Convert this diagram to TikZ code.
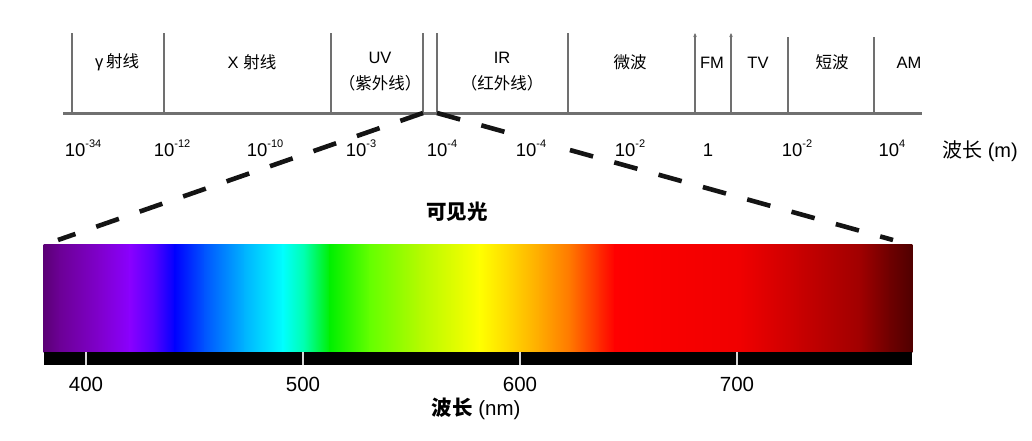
\documentclass[tikz,border=0pt]{standalone}
\usepackage{fontspec}
\setmainfont{Liberation Sans}
\newfontfamily\cjk{Noto Sans CJK SC}
\usetikzlibrary{arrows.meta}
\definecolor{linegray}{RGB}{112,112,112}
\definecolor{s0}{RGB}{92,0,118}
\definecolor{s1}{RGB}{108,0,150}
\definecolor{s2}{RGB}{128,0,205}
\definecolor{s3}{RGB}{138,0,255}
\definecolor{s4}{RGB}{80,0,255}
\definecolor{s5}{RGB}{0,0,255}
\definecolor{s6}{RGB}{0,85,255}
\definecolor{s7}{RGB}{0,180,255}
\definecolor{s8}{RGB}{0,255,255}
\definecolor{s9}{RGB}{0,255,170}
\definecolor{s10}{RGB}{0,240,0}
\definecolor{s11}{RGB}{100,255,0}
\definecolor{s12}{RGB}{180,250,0}
\definecolor{s13}{RGB}{255,255,0}
\definecolor{s14}{RGB}{255,215,0}
\definecolor{s15}{RGB}{255,170,0}
\definecolor{s16}{RGB}{255,120,0}
\definecolor{s17}{RGB}{255,40,0}
\definecolor{s18}{RGB}{255,0,0}
\definecolor{s19}{RGB}{240,0,0}
\definecolor{s20}{RGB}{200,0,0}
\definecolor{s21}{RGB}{160,0,0}
\definecolor{s22}{RGB}{110,0,0}
\definecolor{s23}{RGB}{80,0,0}
\newcommand\tenp[1]{10\raisebox{0.45em}{\fontsize{11}{11}\selectfont #1}}
\begin{document}
\begin{tikzpicture}[x=1pt,y=-1pt,
  bandline/.style={draw=linegray, line width=2pt},
  axisline/.style={draw=linegray, line width=3pt},
  bandlbl/.style={font=\fontsize{16.5}{18}\selectfont, inner sep=0pt, anchor=center},
  numlbl/.style={font=\fontsize{18.5}{20}\selectfont, inner sep=1.5pt, fill=white, anchor=base},
  zoomline/.style={draw=black!92, line width=4.6pt, dash pattern=on 24pt off 22pt},
  ticklbl/.style={font=\fontsize{20.5}{22}\selectfont, inner sep=0pt, anchor=base},
  tickmark/.style={draw=white!85!black, line width=2.5pt},
]
\useasboundingbox (0,0) rectangle (1032,440);
% axis
\coordinate (axL) at (63,113);
\coordinate (axR) at (922,113);
\draw[axisline] (axL) -- (axR);
% band boundaries
\foreach \n/\x/\t in {b1/72/33, b2/164/33, b3/331/33, b4/423/33, b5/437/33, b6/568/33, b9/788/37, b10/874/37}{
  \coordinate (\n-top) at (\x,\t);
  \coordinate (\n-foot) at (\x,113);
  \draw[bandline] (\n-foot) -- (\n-top);
}
\foreach \n/\x in {b7/695, b8/731}{
  \coordinate (\n-top) at (\x,33);
  \coordinate (\n-foot) at (\x,113);
  \draw[bandline, -{Stealth[length=4pt,width=3.5pt]}] (\n-foot) -- (\n-top);
}
% band labels
\node[bandlbl] (gamma) at (117,62) {γ\,{\cjk 射线}};
\node[bandlbl] (xray) at (252,62) {X {\cjk 射线}};
\node[bandlbl] (uv) at (380,58) {UV};
\node[bandlbl] (uvcn) at (380,83) {\cjk （紫外线）};
\node[bandlbl] (ir) at (502,58) {IR};
\node[bandlbl] (ircn) at (502,83) {\cjk （红外线）};
\node[bandlbl] (micro) at (630,62) {\cjk 微波};
\node[bandlbl] (fm) at (712,63) {FM};
\node[bandlbl] (tv) at (758,63) {TV};
\node[bandlbl] (sw) at (832,62) {\cjk 短波};
\node[bandlbl] (am) at (909,63) {AM};
% zoom lines
\coordinate (barL) at (58,240);
\coordinate (barR) at (893,240);
\draw[zoomline] (b4-foot) -- (barL);
\draw[zoomline] (b5-foot) -- (barR);
% wavelength numbers
\node[numlbl] (n1) at (83,156) {\tenp{-34}};
\node[numlbl] (n2) at (172,156) {\tenp{-12}};
\node[numlbl] (n3) at (265,156) {\tenp{-10}};
\node[numlbl] (n4) at (361,156) {\tenp{-3}};
\node[numlbl] (n5) at (442,156) {\tenp{-4}};
\node[numlbl, inner xsep=5pt, inner ysep=5pt] (n6) at (531,156) {\tenp{-4}};
\node[numlbl] (n7) at (630,156) {\tenp{-2}};
\node[numlbl] (n8) at (708,156) {1};
\node[numlbl] (n9) at (797,156) {\tenp{-2}};
\node[numlbl] (n10) at (892,156) {\tenp{4}};
\node[numlbl, font=\fontsize{20}{22}\selectfont, anchor=base west, inner sep=0pt] (wlm) at (942,157) {{\cjk 波长} (m)};
% visible light title
\node[inner sep=0pt] (vis) at (457,212) {\fontsize{20.5}{22}\selectfont\cjk\bfseries 可见光};
% spectrum
\foreach \xa/\ca/\xb/\cb in {44/s0/60/s1, 60/s1/100/s2, 100/s2/130/s3, 130/s3/155/s4, 155/s4/175/s5, 175/s5/205/s6, 205/s6/245/s7, 245/s7/283/s8, 283/s8/305/s9, 305/s9/330/s10, 330/s10/370/s11, 370/s11/420/s12, 420/s12/480/s13, 480/s13/510/s14, 510/s14/540/s15, 540/s15/570/s16, 570/s16/600/s17, 600/s17/615/s18, 615/s18/740/s19, 740/s19/800/s20, 800/s20/860/s21, 860/s21/890/s22, 890/s22/912/s23}{
  \fill[left color=\ca, right color=\cb] (\xa-0.4,244) rectangle (\xb+0.4,352);
}
\fill[black] (44,352) rectangle (912,365);
\foreach \n/\x/\v in {t400/86/400, t500/303/500, t600/520/600, t700/737/700}{
  \coordinate (\n-a) at (\x,352);
  \coordinate (\n-b) at (\x,365);
  \draw[tickmark] (\n-a) -- (\n-b);
  \node[ticklbl] (\n) at (\x,391) {\v};
}
\node[ticklbl] (wlnm) at (476,415) {{\cjk\bfseries 波长} (nm)};
\end{tikzpicture}
\end{document}
